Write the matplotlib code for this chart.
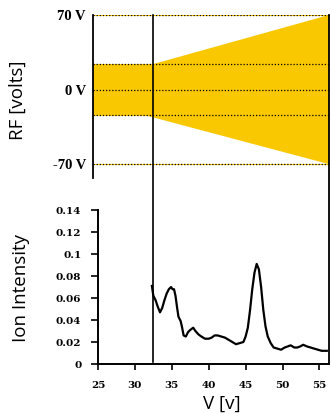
import numpy as np
import matplotlib.pyplot as plt
from matplotlib.lines import Line2D
from matplotlib.transforms import blended_transform_factory

# RF ramp (top panel)
rf_levels = [70, 24, 0, -24, -70]
rf_tick_values = [70, 0, -70]
rf_tick_labels = ["70 V", "0 V", "-70 V"]
band_v = [24.3, 32.5, 56.3, 56.3, 31.3, 24.3]
band_rf = [24, 24, 70, -70, -24, -24]

# scan start / end markers
v_scan_start = 32.5
v_scan_end = 56.3

# ion spectrum (bottom panel)
spec_v = [32.3, 32.5, 32.8, 33.1, 33.4, 33.7, 34.0, 34.3, 34.6, 34.9,
          35.1, 35.3, 35.5, 35.7, 35.9, 36.2, 36.4, 36.6, 36.9, 37.2,
          37.5, 37.9, 38.2, 38.6, 39.0, 39.5, 40.0, 40.4, 40.8, 41.2,
          41.7, 42.2, 42.7, 43.2, 43.7, 44.2, 44.7, 45.0, 45.3, 45.6,
          45.9, 46.2, 46.5, 46.8, 47.1, 47.4, 47.7, 48.0, 48.4, 48.8,
          49.3, 49.8, 50.3, 50.7, 51.1, 51.6, 52.0, 52.4, 52.8, 53.3,
          53.8, 54.3, 54.8, 55.3, 55.8, 56.0]
spec_int = [0.071, 0.062, 0.058, 0.052, 0.047, 0.051, 0.058, 0.064, 0.068, 0.070,
            0.068, 0.068, 0.062, 0.052, 0.043, 0.039, 0.033, 0.026, 0.025, 0.029,
            0.031, 0.033, 0.030, 0.027, 0.025, 0.023, 0.023, 0.024, 0.026, 0.026,
            0.025, 0.024, 0.022, 0.020, 0.018, 0.019, 0.020, 0.025, 0.033, 0.049,
            0.068, 0.083, 0.091, 0.086, 0.070, 0.049, 0.034, 0.025, 0.019, 0.015,
            0.014, 0.013, 0.015, 0.016, 0.017, 0.015, 0.015, 0.016, 0.0175, 0.016,
            0.015, 0.014, 0.013, 0.012, 0.012, 0.012]
int_ticks = [0, 0.02, 0.04, 0.06, 0.08, 0.1, 0.12, 0.14]
int_tick_labels = ["0", "0.02", "0.04", "0.06", "0.08", "0.1", "0.12", "0.14"]
v_ticks = [25, 30, 35, 40, 45, 50, 55]

gold = "#F9C800"
label_font = "Open Sans"
label_size = 13.5

fig = plt.figure(figsize=(3.32, 4.13), dpi=100)
ax_rf = fig.add_axes([0.2801, 0.569, 0.7108, 0.3947])
ax_ion = fig.add_axes([0.2952, 0.1186, 0.6958, 0.3729])

# --- top panel ---
ax_rf.fill(band_v, band_rf, color=gold, lw=0, zorder=1)
for lev in rf_levels:
    ax_rf.axhline(lev, color=gold, lw=0.8, zorder=2)
    ax_rf.axhline(lev, color="black", lw=0.9, ls=(0, (1, 1.5)), zorder=3)
ax_rf.set_xlim(24.3, 56.3)
ax_rf.set_ylim(-83, 70)
ax_rf.set_xticks([])
ax_rf.set_yticks(rf_tick_values)
ax_rf.set_yticklabels(rf_tick_labels, family="Liberation Serif",
                      fontweight="bold", fontsize=10.5)
ax_rf.tick_params(axis="y", length=0, pad=5)
for s in ["top", "bottom", "right"]:
    ax_rf.spines[s].set_visible(False)
ax_rf.spines["left"].set_linewidth(1.3)
ax_rf.patch.set_alpha(0)
ax_rf.set_ylabel("RF [volts]", family=label_font, fontsize=label_size)
ax_rf.yaxis.set_label_coords(-0.28, 0.479)

# --- bottom panel ---
ax_ion.plot(spec_v, spec_int, color="black", lw=1.6)
ax_ion.set_xlim(25, 56.3)
ax_ion.set_ylim(0, 0.14)
ax_ion.set_xticks(v_ticks)
ax_ion.set_xticklabels([str(v) for v in v_ticks], family="DejaVu Serif",
                       fontweight="bold", fontsize=7.5)
ax_ion.set_yticks(int_ticks)
ax_ion.set_yticklabels(int_tick_labels, family="DejaVu Serif",
                       fontweight="bold", fontsize=7.5)
ax_ion.tick_params(axis="x", length=4, width=1.2, pad=8)
ax_ion.tick_params(axis="y", length=5, width=1.2, pad=7)
for s in ["top", "right"]:
    ax_ion.spines[s].set_visible(False)
ax_ion.spines["left"].set_linewidth(1.4)
ax_ion.spines["bottom"].set_linewidth(1.4)
ax_ion.patch.set_alpha(0)
ax_ion.set_ylabel("Ion Intensity", family=label_font, fontsize=label_size)
ax_ion.yaxis.set_label_coords(-0.294, 0.494)
ax_ion.set_xlabel("V [v]", family=label_font, fontsize=label_size)
ax_ion.xaxis.set_label_coords(0.535, -0.2)

# vertical markers running through both panels
trans = blended_transform_factory(ax_ion.transData, fig.transFigure)
fig.add_artist(Line2D([v_scan_start, v_scan_start], [0.123, 0.9637],
                      transform=trans, color="black", lw=1.2))
fig.add_artist(Line2D([v_scan_end, v_scan_end], [0.121, 0.9637],
                      transform=trans, color="black", lw=1.3))

fig.savefig("out.png", dpi=100)
